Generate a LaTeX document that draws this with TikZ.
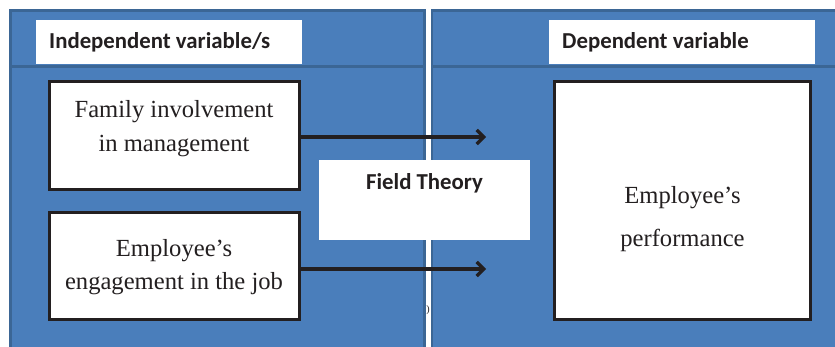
\documentclass[tikz,border=0pt]{standalone}
\usepackage{fontspec}
\setmainfont{Liberation Serif}
\newfontfamily\calib{Carlito}
\usetikzlibrary{arrows.meta}
\definecolor{panelblue}{HTML}{4A7EBB}
\definecolor{paneledge}{HTML}{3B6695}
\definecolor{boxline}{HTML}{231F20}
\tikzset{
  panel/.style={draw=paneledge, fill=panelblue, line width=2.6pt},
  headbox/.style={fill=white, draw=none},
  varbox/.style={draw=boxline, fill=white, line width=3pt, inner sep=0pt},
  vartext/.style={font=\fontsize{24.6}{34}\selectfont, align=center, text=boxline, inner sep=0pt},
  headtext/.style={font=\calib\bfseries\fontsize{22.8}{26}\selectfont, text=boxline, inner sep=0pt},
  arr/.style={draw=boxline, line width=3.2pt, -{Straight Barb[length=7pt,width=14pt]}},
}
\begin{document}
\begin{tikzpicture}[x=1pt,y=-1pt]
\useasboundingbox (0,0) rectangle (835,347);
% panels
\path[panel] (10.5,10.5) rectangle (424.5,66.5);
\path[panel] (10.5,66.5) rectangle (424.5,400);
\path[panel] (432,10.5) rectangle (880,66.5);
\path[panel] (432,66.5) rectangle (880,400);
% header boxes
\node[headbox, minimum width=266pt, minimum height=44pt, inner sep=0pt] (hl) at (169,42) {};
\node[headbox, minimum width=266pt, minimum height=44pt, inner sep=0pt] (hr) at (682,42) {};
\node[headtext, anchor=base west] (hlt) at (49,49) {Independent variable/s};
\node[headtext, anchor=base west] (hrt) at (562,49) {Dependent variable};
% variable boxes
\node[varbox, minimum width=250pt, minimum height=108pt] (fam) at (174,135.5) {};
\node[varbox, minimum width=250pt, minimum height=107pt] (eng) at (174,266) {};
\node[varbox, minimum width=256pt, minimum height=238pt] (perf) at (682.5,200.5) {};
\node[vartext] (famt) at (174,128.5) {Family involvement\\in management};
\node[vartext, font=\fontsize{24.6}{32.5}\selectfont] (engt) at (174,267) {Employee’s\\engagement in the job};
\node[vartext, font=\fontsize{24.6}{42.7}\selectfont] (perft) at (682.5,219) {Employee’s\\performance};
% arrows
\coordinate (a1) at (486,137);
\coordinate (a2) at (486,269);
\draw[arr] (fam.east |- a1) -- (a1);
\draw[arr] (eng.east |- a2) -- (a2);
% field theory
\node[headbox, minimum width=211pt, minimum height=80pt, inner sep=0pt] (field) at (424.5,200) {};
\node[headtext, anchor=base] (fieldt) at (424.5,190) {Field Theory};
% stray glyph
\node[inner sep=0pt, font=\fontsize{10}{12}\selectfont, text=boxline] (stray) at (428,310) {)};
\end{tikzpicture}
\end{document}
